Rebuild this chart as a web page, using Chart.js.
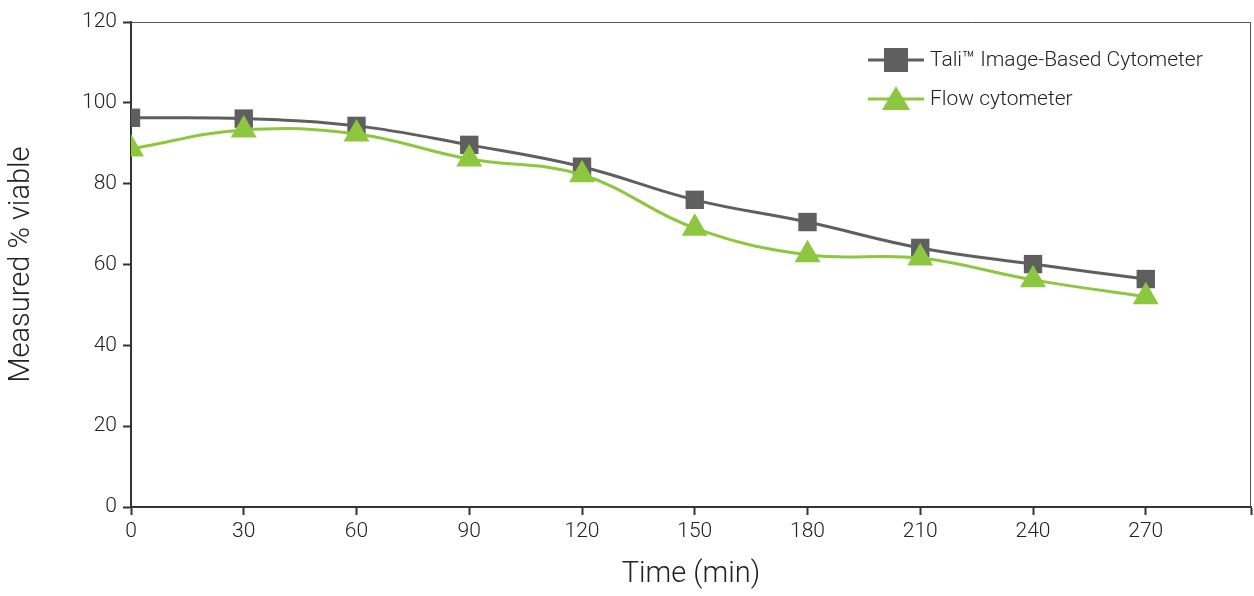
<!DOCTYPE html>
<html>
<head>
<meta charset="utf-8">
<script src="https://cdn.jsdelivr.net/npm/chart.js@4"></script>
<style>
  body { margin: 0; background: #fff; overflow: hidden; }
  #wrap { width: 1266px; height: 596px; }
</style>
</head>
<body>
<div id="wrap"><canvas id="c"></canvas></div>
<script>
const times = [0, 30, 60, 90, 120, 150, 180, 210, 240, 270];
const taliValues = [96.3, 96.1, 94.3, 89.6, 84.2, 76.0, 70.5, 64.1, 60.1, 56.4];
const flowValues = [88.6, 93.3, 92.3, 86.1, 82.2, 69.0, 62.4, 61.6, 56.2, 52.0];
const seriesNames = ["Tali™ Image-Based Cytometer", "Flow cytometer"];
const taliColor = "#5f5f5f";
const flowColor = "#8dc63f";
const font = "Roboto, sans-serif";

const toPoints = (vals) => vals.map((v, i) => ({ x: times[i], y: v }));

// top/right border + legend drawn on top of the plot
const extras = {
  id: "extras",
  afterDraw(chart) {
    const { ctx, chartArea: a } = chart;
    ctx.save();
    ctx.strokeStyle = "#555";
    ctx.lineWidth = 1;
    ctx.beginPath();
    ctx.moveTo(a.left, a.top + 0.5);
    ctx.lineTo(a.right - 0.5, a.top + 0.5);
    ctx.lineTo(a.right - 0.5, a.bottom);
    ctx.stroke();

    const items = [
      { name: seriesNames[0], color: taliColor, style: "rect", y: 60 },
      { name: seriesNames[1], color: flowColor, style: "triangle", y: 99 },
    ];
    ctx.font = "300 21px " + font;
    ctx.textBaseline = "middle";
    items.forEach((it) => {
      ctx.strokeStyle = it.color;
      ctx.lineWidth = 3;
      ctx.beginPath();
      ctx.moveTo(868, it.y);
      ctx.lineTo(924, it.y);
      ctx.stroke();
      ctx.fillStyle = it.color;
      if (it.style === "rect") {
        ctx.fillRect(884, it.y - 12, 24, 24);
      } else {
        ctx.beginPath();
        ctx.moveTo(896, it.y - 13);
        ctx.lineTo(910, it.y + 11);
        ctx.lineTo(882, it.y + 11);
        ctx.closePath();
        ctx.fill();
      }
      ctx.fillStyle = "#222";
      ctx.fillText(it.name, 930, it.y + 1);
    });
    ctx.restore();
  },
};

const axisGrid = {
  display: true,
  drawOnChartArea: false,
  drawTicks: true,
  tickLength: 8,
  tickColor: "#333",
  tickWidth: 2,
};

new Chart(document.getElementById("c"), {
  type: "line",
  data: {
    datasets: [
      {
        label: seriesNames[1],
        data: toPoints(flowValues),
        borderColor: flowColor,
        backgroundColor: flowColor,
        borderWidth: 3,
        tension: 0.4,
        pointStyle: "triangle",
        pointRadius: 15,
        pointBorderWidth: 0,
      },
      {
        label: seriesNames[0],
        data: toPoints(taliValues),
        borderColor: taliColor,
        backgroundColor: taliColor,
        borderWidth: 3,
        tension: 0.4,
        pointStyle: "rect",
        pointRadius: 13,
        pointBorderWidth: 0,
      },
    ],
  },
  options: {
    responsive: true,
    maintainAspectRatio: false,
    animation: false,
    layout: { padding: { left: 0, right: 0, top: 22, bottom: 0 } },
    plugins: { legend: { display: false }, tooltip: { enabled: false } },
    scales: {
      x: {
        type: "linear",
        min: 0,
        max: 298,
        afterBuildTicks: (axis) => {
          axis.ticks = times.map((t) => ({ value: t })).concat([{ value: 298 }]);
        },
        afterFit: (axis) => { axis.height = 89; },
        ticks: {
          color: "#222",
          font: { family: font, size: 21, weight: 300 },
          maxRotation: 0,
          padding: 4,
          callback: (v) => (v > 270 ? "" : v),
        },
        grid: axisGrid,
        border: { color: "#333", width: 2 },
        title: {
          display: true,
          text: "Time (min)",
          color: "#222",
          font: { family: font, size: 29, weight: 300 },
          padding: { top: 8 },
        },
      },
      y: {
        min: 0,
        max: 120,
        afterFit: (axis) => { axis.width = 131; },
        ticks: {
          stepSize: 20,
          color: "#222",
          font: { family: font, size: 21, weight: 300 },
          padding: 6,
        },
        grid: axisGrid,
        border: { color: "#333", width: 2 },
        title: {
          display: true,
          text: "Measured % viable",
          color: "#222",
          font: { family: font, size: 29, weight: 300 },
          padding: { bottom: 36 },
        },
      },
    },
  },
  plugins: [extras],
});
</script>
</body>
</html>
